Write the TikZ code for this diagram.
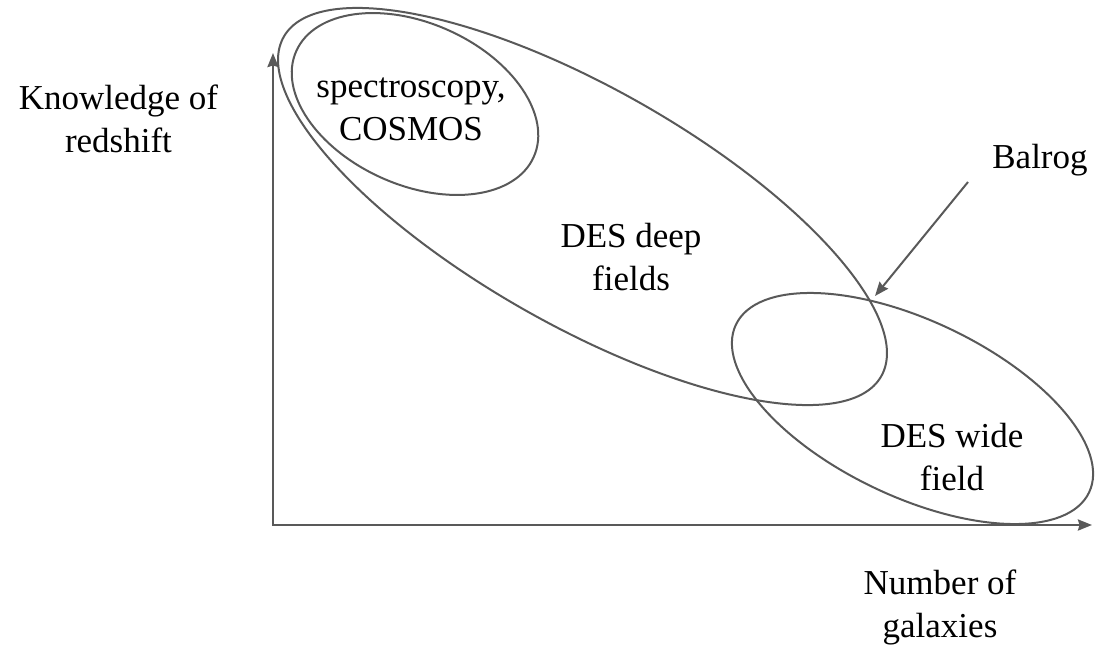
\documentclass[tikz,border=0pt]{standalone}
\usepackage{fontspec}
\setmainfont{Liberation Serif}
\usetikzlibrary{arrows.meta}
\definecolor{linegray}{RGB}{89,89,89}
\tikzset{
  lbl/.style={align=center, anchor=base, inner sep=0pt, font=\fontsize{35}{43}\selectfont},
  region/.style={draw=linegray, line width=2pt},
  axisline/.style={draw=linegray, line width=2.4pt, line join=miter, {Stealth[length=14pt,width=11pt,inset=1.5pt]}-{Stealth[length=14pt,width=11pt,inset=1.5pt]}},
  pointer/.style={draw=linegray, line width=2pt, -{Stealth[length=14pt,width=11pt,inset=1.5pt]}}
}
\begin{document}
\begin{tikzpicture}[x=1pt,y=-1pt]
\useasboundingbox (0,0) rectangle (1095,649);
% axes
\coordinate (ytop) at (273,53);
\coordinate (xend) at (1092,525);
\draw[axisline] (ytop) |- (xend);
% regions
\draw[region, rotate around={-24:(415,104)}] (415,104) ellipse [x radius=130, y radius=81];
\draw[region, rotate around={-29.6:(582.5,206.5)}] (582.5,206.5) ellipse [x radius=343.6, y radius=118.5];
\draw[region, rotate around={-25.4:(912.5,408.5)}] (912.5,408.5) ellipse [x radius=195.5, y radius=88];
% labels (base = baseline of the last line)
\node[lbl] (ylabel) at (118.5,152) {Knowledge of\\redshift};
\node[lbl] (xlabel) at (940,637) {Number of\\galaxies};
\node[lbl] (spec) at (411,140) {spectroscopy,\\COSMOS};
\node[lbl] (deep) at (631,290) {DES deep\\fields};
\node[lbl] (wide) at (952,490) {DES wide\\field};
\node[lbl] (balrog) at (1040,168) {Balrog};
% balrog pointer
\coordinate (bstart) at (968,182);
\coordinate (btip) at (875,296);
\draw[pointer] (bstart) -- (btip);
\end{tikzpicture}
\end{document}
